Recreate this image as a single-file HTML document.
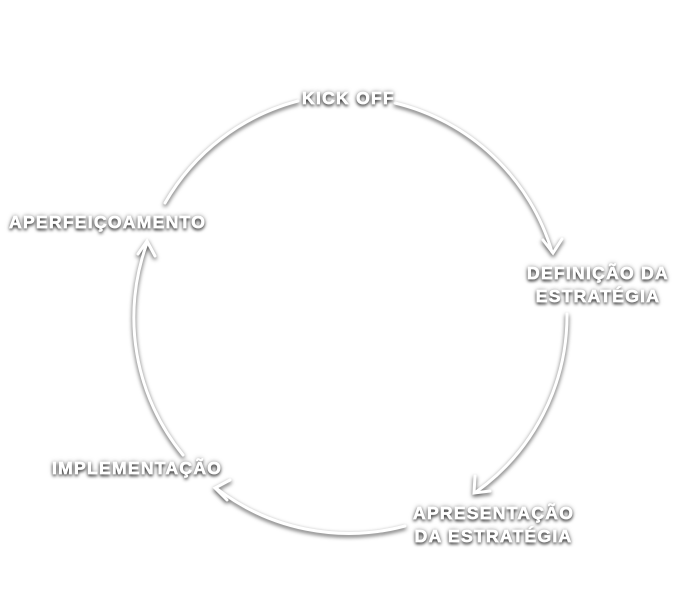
<!DOCTYPE html>
<html><head><style>
body{margin:0;width:700px;height:600px;background:#fff;overflow:hidden;position:relative;font-family:"Liberation Sans",sans-serif}
.t{position:absolute;color:#fff;font-weight:900;font-size:17.5px;letter-spacing:1.3px;line-height:23px;-webkit-text-stroke:0.7px #fff;
text-shadow:0 2px 3px rgba(0,0,0,.9),0 0 5px rgba(0,0,0,.55);white-space:nowrap}
svg{position:absolute;left:0;top:0;filter:drop-shadow(0 2px 2px rgba(0,0,0,.7))}
</style></head><body>
<svg width="700" height="600" fill="none" stroke="#fff" stroke-width="3" stroke-linecap="round">
<path d="M395,103 A217,217 0 0 1 552,252"/>
<path d="M543,240 L553,253 L562,239"/>
<path d="M567,314 A217,217 0 0 1 476,492"/>
<path d="M475,476 L474,493 L490,491"/>
<path d="M405,526 A217,217 0 0 1 216,488"/>
<path d="M230,480 L215,488 L227,500"/>
<path d="M183,455 A217,217 0 0 1 147,243"/>
<path d="M138,254 L147,241 L155,256"/>
<path d="M165,203 A217,217 0 0 1 298,101"/>
</svg>
<div class="t" style="left:302px;top:87px">KICK OFF</div>
<div class="t" style="left:9px;top:211px">APERFEIÇOAMENTO</div>
<div class="t" style="left:527px;top:262px;text-align:center">DEFINIÇÃO DA<br>ESTRATÉGIA</div>
<div class="t" style="left:52px;top:457px">IMPLEMENTAÇÃO</div>
<div class="t" style="left:413px;top:502px;text-align:center">APRESENTAÇÃO<br>DA ESTRATÉGIA</div>
</body></html>
